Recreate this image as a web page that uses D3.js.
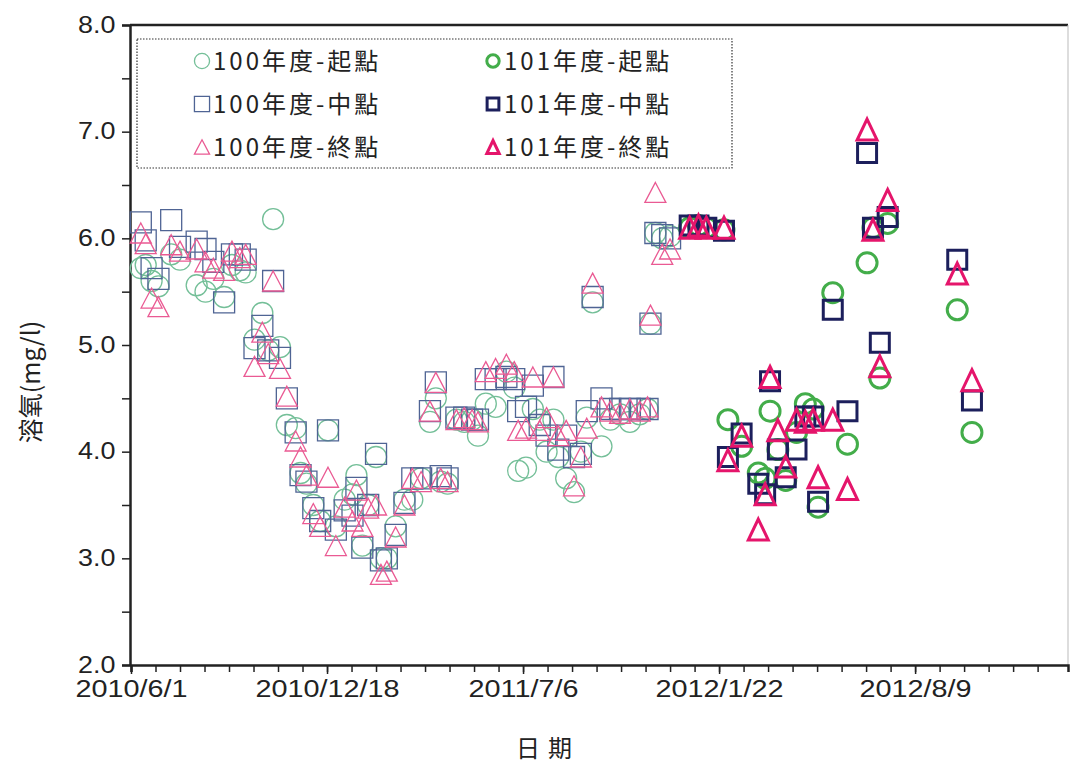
<!DOCTYPE html>
<html><head><meta charset="utf-8">
<script src="https://cdn.jsdelivr.net/npm/d3@7"></script>
<style>body{margin:0;background:#fff}svg{display:block}</style>
</head><body>
<svg id="c" width="1073" height="764"></svg>
<script>
// ---------- data ----------
const dates100 = ["2010-06-11","2010-06-16","2010-06-22","2010-06-29","2010-07-12","2010-07-21","2010-08-07","2010-08-16","2010-08-24","2010-09-04",
"2010-09-12","2010-09-20","2010-09-26","2010-10-05","2010-10-13","2010-10-19","2010-10-24","2010-10-31","2010-11-07","2010-11-16",
"2010-11-21","2010-11-27","2010-12-04","2010-12-11","2010-12-19","2010-12-27","2011-01-05","2011-01-13","2011-01-17","2011-01-23",
"2011-01-29","2011-02-06","2011-02-11","2011-02-17","2011-02-26","2011-03-07","2011-03-15","2011-03-24","2011-04-02","2011-04-08",
"2011-04-13","2011-04-20","2011-04-29","2011-05-07","2011-05-15","2011-05-21","2011-05-29","2011-06-08","2011-06-19","2011-06-27",
"2011-07-01","2011-07-09","2011-07-16","2011-07-23","2011-07-30","2011-08-06","2011-08-11","2011-08-19","2011-08-27","2011-09-03",
"2011-09-09","2011-09-15","2011-09-24","2011-10-03","2011-10-13","2011-10-23","2011-11-02","2011-11-10","2011-11-13","2011-11-18",
"2011-11-25","2011-12-03"];
const start100 = [5.72,5.75,5.6,5.55,5.85,5.8,5.56,5.5,5.62,5.45, 5.75,5.7,5.68,5.05,5.3,4.95,6.18,4.98,4.25,4.22,
3.8,3.7,3.5,3.35,4.2,3.3,3.55,3.6,3.78,3.12, 3.5,3.95,3.0,3.0,3.3,3.55,3.55,3.75,4.28,4.5,
3.72,3.7,4.3,4.28,4.3,4.15,4.45,4.42,4.75,4.6, 3.82,3.85,4.4,4.3,4.0,4.3,3.95,3.75,3.62,4.0,
4.32,5.4,4.05,4.3,4.35,4.28,4.35,4.4,5.2,6.05, 6.0,6.02];
const mid100 = [6.15,5.98,5.72,5.62,6.17,5.92,5.97,5.9,5.78,5.4, 5.85,5.85,5.8,4.97,5.18,4.95,5.6,4.88,4.5,4.18,
3.78,3.72,3.47,3.35,4.2,3.27,3.45,3.4,3.66,3.1, 3.5,3.98,2.98,3.0,3.22,3.52,3.75,3.75,4.38,4.65,
3.77,3.75,4.32,4.32,4.3,4.3,4.68,4.68,4.7,4.68, 4.38,4.42,4.62,4.25,4.15,4.7,4.02,4.15,3.95,3.98,
4.38,5.45,4.5,4.4,4.4,4.4,4.4,4.4,5.2,6.05, 6.03,6.0];
const end100 = [6.05,5.95,5.44,5.36,5.94,5.88,5.9,5.78,5.72,5.7, 5.88,5.82,5.85,4.8,5.12,4.92,5.6,4.78,4.52,4.1,
3.95,3.78,3.42,3.3,3.76,3.12,3.48,3.35,3.64,3.3, 3.47,3.5,2.85,2.88,3.2,3.5,3.75,3.72,4.38,4.65,
3.75,3.72,4.3,4.32,4.3,4.28,4.75,4.78,4.82,4.75, 4.2,4.22,4.7,4.2,4.32,4.7,4.15,4.2,3.68,3.95,
4.22,5.58,4.42,4.38,4.36,4.4,4.38,4.42,5.28,6.43, 5.85,5.9];

const dates101 = ["2011-12-23","2012-01-01","2012-01-09","2012-01-27","2012-01-31","2012-02-14","2012-03-02","2012-03-09","2012-03-14","2012-03-22",
"2012-03-30","2012-04-10","2012-04-19","2012-04-27","2012-05-02","2012-05-17","2012-06-01","2012-06-21","2012-06-27","2012-07-04",
"2012-07-12","2012-09-21","2012-10-06"];
const start101 = [6.1,6.12,6.1,6.08,4.3,4.05,3.8,3.75,4.38,4.02, 3.73,4.18,4.45,4.4,3.48,5.49,4.07,5.77,6.1,4.69, 6.14,5.33,4.18];
const mid101   = [6.12,6.12,6.1,6.07,3.95,4.17,3.7,3.6,4.66,4.02, 3.76,4.02,4.33,4.33,3.53,5.33,4.38,6.8,6.1,5.02, 6.2,5.8,4.48];
const end101   = [6.1,6.12,6.1,6.1,3.92,4.15,3.27,3.6,4.7,4.2, 3.86,4.3,4.28,4.3,3.76,4.3,3.65,7.02,6.08,4.8, 6.36,5.67,4.67];

const seriesNames = ["100年度-起點","100年度-中點","100年度-終點","101年度-起點","101年度-中點","101年度-終點"];
const yTicks = [2,3,4,5,6,7,8];
const axisStart = "2010-06-01", axisEnd = "2013-01-12";

// ---------- setup ----------
const parse = d3.timeParse("%Y-%m-%d");
const svg = d3.select("#c");
const L = 131, R = 1068, T = 25, B = 665;
const x = d3.scaleTime().domain([parse(axisStart), parse(axisEnd)]).range([L, R]);
const y = d3.scaleLinear().domain([2, 8]).range([B, T]);

const styles = [
  {shape:"circle",   color:"#74bf98", sw:1.3},
  {shape:"square",   color:"#4f6494", sw:1.3},
  {shape:"triangle", color:"#ea5a93", sw:1.3},
  {shape:"circle",   color:"#43ad4a", sw:3},
  {shape:"square",   color:"#1c1f5c", sw:3},
  {shape:"triangle", color:"#e5156b", sw:3}
];
function shapePath(s, big){
  if (s === "circle"){ const r = big?10:10.5; return `M${-r},0A${r},${r} 0 1,0 ${r},0A${r},${r} 0 1,0 ${-r},0Z`; }
  if (s === "square"){ const h = big?9.5:10.5; return `M${-h},${-h}H${h}V${h}H${-h}Z`; }
  const w = big?10:10.5, hh = big?10.5:10; return `M0,${-hh}L${w},${hh}L${-w},${hh}Z`;
}

const data = [
  {dates:dates100, vals:start100}, {dates:dates100, vals:mid100}, {dates:dates100, vals:end100},
  {dates:dates101, vals:start101}, {dates:dates101, vals:mid101}, {dates:dates101, vals:end101}
];

// ---------- frame ----------
svg.append("line").attr("x1",L-1).attr("x2",R).attr("y1",T).attr("y2",T).attr("stroke","#222").attr("stroke-width",2.5);
svg.append("line").attr("x1",R).attr("x2",R).attr("y1",T).attr("y2",B).attr("stroke","#bbb").attr("stroke-width",1);

// ---------- axes ----------
const yMinor = d3.range(2, 8.01, 0.5);
const yAx = svg.append("g").attr("transform",`translate(${L-1},0)`)
  .call(d3.axisLeft(y).tickValues(yMinor).tickSize(8).tickFormat(d => yTicks.includes(d) ? d3.format(".1f")(d) : ""));
yAx.select(".domain").attr("stroke","#222").attr("stroke-width",2.5);
yAx.selectAll(".tick line").attr("stroke","#222").attr("stroke-width",1.5);
yAx.selectAll(".tick text").attr("font-family","'Liberation Sans', Arial, sans-serif").attr("font-size",24)
  .attr("fill","#222").attr("x",-13).attr("dy","0.3em").attr("transform","scale(1.12,1)");

const s0 = parse(axisStart);
const xMinor = d3.range(0, 38).map(i => d3.timeDay.offset(s0, 25*i)).filter(d => d <= x.domain()[1]);
const xMajor = d3.range(0, 5).map(i => d3.timeDay.offset(s0, 200*i));
const fmt = d => `${d.getFullYear()}/${d.getMonth()+1}/${d.getDate()}`;
const xAx = svg.append("g").attr("transform",`translate(0,${B})`)
  .call(d3.axisBottom(x).tickValues(xMinor).tickSize(7).tickFormat(""));
xAx.select(".domain").attr("stroke","#222").attr("stroke-width",2.5);
xAx.selectAll(".tick line").attr("stroke","#222").attr("stroke-width",1.5);
const xLab = svg.append("g").attr("transform",`translate(0,${B})`)
  .call(d3.axisBottom(x).tickValues(xMajor).tickSize(9).tickFormat(fmt));
xLab.select(".domain").remove();
xLab.selectAll(".tick line").attr("stroke","#222").attr("stroke-width",1.5);
xLab.selectAll(".tick text").attr("font-family","'Liberation Sans', Arial, sans-serif").attr("font-size",24)
  .attr("fill","#222").attr("y",15).attr("transform","scale(1.2,1)");

// axis titles
svg.append("text").attr("transform","translate(40,382) rotate(-90)").attr("text-anchor","middle")
  .attr("font-family","'Noto Sans CJK TC', sans-serif").attr("font-size",25).attr("fill","#222")
  .text("溶氧(mg/l)");
svg.append("text").attr("x",548).attr("y",757).attr("text-anchor","middle")
  .attr("font-family","'Noto Sans CJK TC', sans-serif").attr("font-size",24).attr("letter-spacing",8).attr("fill","#222")
  .text("日期");

// ---------- points ----------
data.forEach((ser, i) => {
  const st = styles[i], big = i >= 3;
  svg.append("g").selectAll("path").data(ser.dates.map((d,k)=>({d:parse(d), v:ser.vals[k]})))
    .join("path")
    .attr("transform", p => `translate(${x(p.d)},${y(p.v)})`)
    .attr("d", shapePath(st.shape, big))
    .attr("fill","none").attr("stroke", st.color).attr("stroke-width", st.sw);
});

// ---------- legend ----------
svg.append("rect").attr("x",137).attr("y",39).attr("width",595).attr("height",129)
  .attr("fill","none").attr("stroke","#333").attr("stroke-width",1.2).attr("stroke-dasharray","1.5,1.5");
seriesNames.forEach((name, i) => {
  const col = Math.floor(i/3), row = i%3;
  const mx = col ? 493 : 202, my = 61 + row*43;
  const st = styles[i], big = i >= 3;
  const sc = big ? 0.62 : 0.72;
  svg.append("path").attr("transform",`translate(${mx},${my}) scale(${sc})`)
    .attr("d", shapePath(st.shape, big)).attr("fill","none").attr("stroke",st.color).attr("stroke-width", st.sw/sc);
  svg.append("text").attr("x", mx+11).attr("y", my+9)
    .attr("font-family","'Noto Sans CJK TC', sans-serif").attr("font-size",24).attr("letter-spacing",3).attr("fill","#222")
    .text(name);
});
</script>
</body></html>
